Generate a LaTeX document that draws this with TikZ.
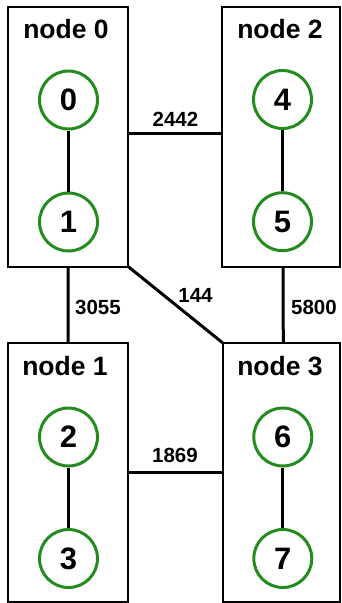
\documentclass[tikz,border=0pt]{standalone}
\usepackage{fontspec}
\setmainfont{Liberation Sans}
\definecolor{procgreen}{RGB}{36,140,30}
\begin{document}
\begin{tikzpicture}[x=1pt,y=-1pt,
  hostbox/.style={draw=black,line width=2pt,minimum width=120pt,inner sep=0pt,outer sep=0pt},
  hosttitle/.style={font=\bfseries\fontsize{26.5}{29}\selectfont,anchor=base,inner sep=0pt},
  proc/.style={circle,draw=procgreen,line width=3pt,minimum size=58pt,inner sep=0pt,
    font=\bfseries\fontsize{31}{33}\selectfont},
  intra/.style={line width=3pt},
  link/.style={line width=3pt},
  cost/.style={font=\bfseries\fontsize{20.5}{22}\selectfont,inner sep=0pt}]
\useasboundingbox (0,0) rectangle (341,603);
% host boxes
\node[hostbox,minimum width=120.3pt,minimum height=260pt] (n0) at (68.2,136.7) {};
\node[hostbox,minimum width=118pt,minimum height=260pt] (n2) at (281,136.7) {};
\node[hostbox,minimum width=120pt,minimum height=259.5pt] (n1) at (68,472.5) {};
\node[hostbox,minimum width=117.5pt,minimum height=259.5pt] (n3) at (281.3,472.5) {};
% titles
\node[hosttitle] (t0) at (66,38) {node 0};
\node[hosttitle] (t2) at (280,38) {node 2};
\node[hosttitle] (t1) at (65,375) {node 1};
\node[hosttitle] (t3) at (280,375) {node 3};
% processes
\node[proc] (p0) at (68.5,100) {0};
\node[proc] (p1) at (68.5,222) {1};
\node[proc] (p4) at (282.5,99.5) {4};
\node[proc] (p5) at (282.5,221.7) {5};
\node[proc] (p2) at (68.5,437) {2};
\node[proc] (p3) at (68.5,558.5) {3};
\node[proc] (p6) at (282.8,437) {6};
\node[proc] (p7) at (282.8,558.5) {7};
\draw[intra] (p0) -- (p1);
\draw[intra] (p4) -- (p5);
\draw[intra] (p2) -- (p3);
\draw[intra] (p6) -- (p7);
% links between hosts
\draw[link] ([yshift=3.5pt]n0.east) -- ([yshift=3.5pt]n2.west);
\draw[link] (n1.east) -- (n3.west);
\draw[link] (n0.south) -- (n1.north);
\draw[link] ([xshift=2pt]n2.south) -- ([xshift=2pt]n3.north);
\draw[link] (n0.south east) -- (n3.north west);
% link costs
\node[cost] (c02) at (175.5,119) {2442};
\node[cost] (c13) at (175,455) {1869};
\node[cost,anchor=west] (c01) at (75,307) {3055};
\node[cost,anchor=west] (c23) at (291,307) {5800};
\node[cost] (c03) at (195.5,295) {144};
\end{tikzpicture}
\end{document}
